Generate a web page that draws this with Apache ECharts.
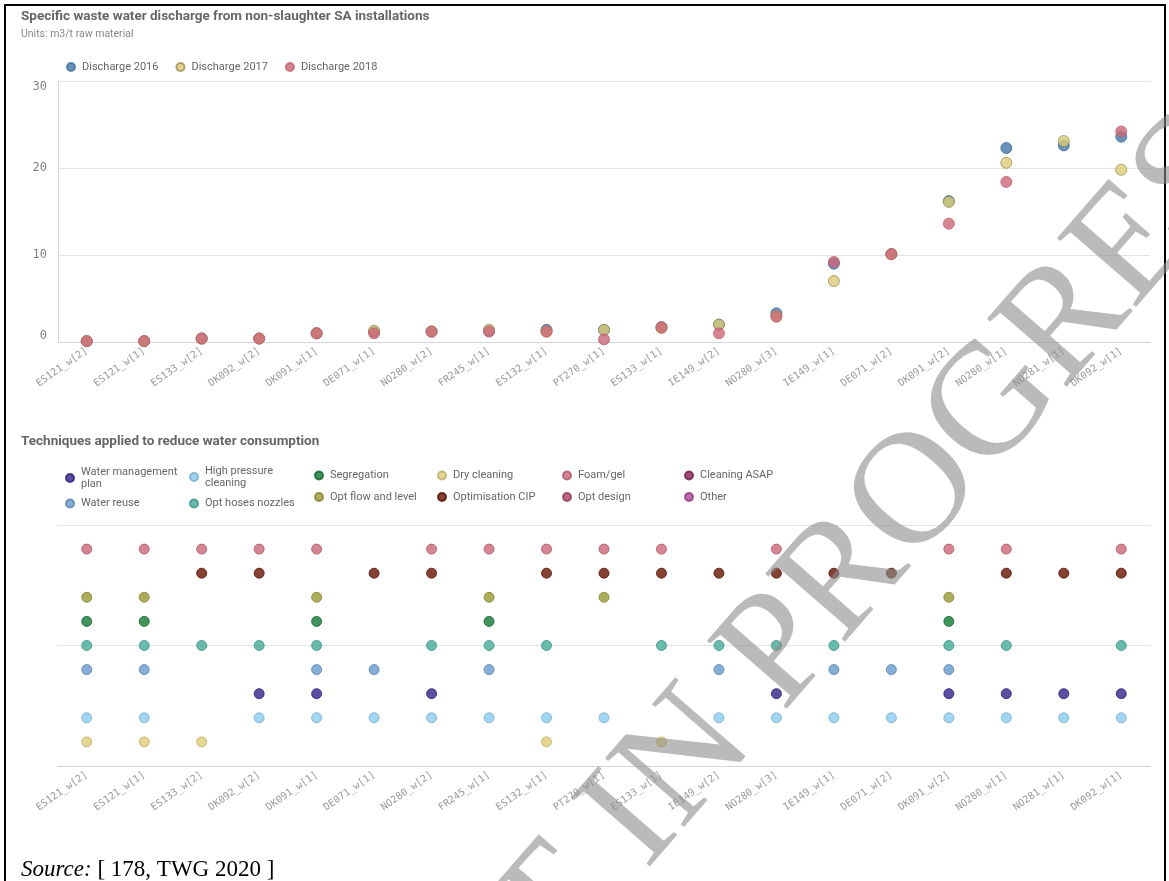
<!DOCTYPE html>
<html>
<head>
<meta charset="utf-8">
<title>Specific waste water discharge from non-slaughter SA installations</title>
<script src="https://cdn.jsdelivr.net/npm/echarts@6/dist/echarts.min.js"></script>
<style>
  html, body { margin: 0; padding: 0; background: #fff; }
  #chart { width: 1169px; height: 881px; }
</style>
</head>
<body>
<div id="chart"></div>
<script>
// installations, same order in both charts
const installations = [
  'ES121_w[2]', 'ES121_w[1]', 'ES133_w[2]', 'DK092_w[2]', 'DK091_w[1]', 'DE071_w[1]',
  'NO280_w[2]', 'FR245_w[1]', 'ES132_w[1]', 'PT270_w[1]', 'ES133_w[1]', 'IE149_w[2]',
  'NO280_w[3]', 'IE149_w[1]', 'DE071_w[2]', 'DK091_w[2]', 'NO280_w[1]', 'NO281_w[1]', 'DK092_w[1]'
];

// discharge, m3/t raw material (null = no value)
const discharge2016 = [0.1, 0.1, 0.4, 0.4, 1.0, 1.2, 1.2, 1.3, 1.4, 1.4, 1.7, 2.0, 3.3, 9.0, 10.1, 16.2, 22.3, 22.6, 23.6];
const discharge2017 = [0.1, 0.1, 0.4, 0.4, 1.0, 1.3, 1.2, 1.4, 1.2, 1.4, 1.6, 2.0, 3.0, 7.0, 10.1, 16.1, 20.6, 23.1, 19.8];
const discharge2018 = [0.1, 0.1, 0.4, 0.4, 1.0, 1.0, 1.2, 1.2, 1.2, 0.3, 1.7, 1.0, 2.9, 9.2, 10.1, 13.6, 18.4, null, 24.2];
const dischargeTicks = [0, 10, 20, 30];

// techniques, listed from the bottom row up
const techniqueRows = [
  'Dry cleaning', 'High pressure cleaning', 'Water management plan', 'Water reuse',
  'Opt hoses nozzles', 'Segregation', 'Opt flow and level', 'Optimisation CIP', 'Foam/gel'
];
// 1 = technique applied at that installation
const dryCleaning      = [1,1,1,0,0,0,0,0,1,0,1,0,0,0,0,0,0,0,0];
const highPressure     = [1,1,0,1,1,1,1,1,1,1,0,1,1,1,1,1,1,1,1];
const waterManagement  = [0,0,0,1,1,0,1,0,0,0,0,0,1,0,0,1,1,1,1];
const waterReuse       = [1,1,0,0,1,1,0,1,0,0,0,1,0,1,1,1,0,0,0];
const optHoses         = [1,1,1,1,1,0,1,1,1,0,1,1,1,1,0,1,1,0,1];
const segregation      = [1,1,0,0,1,0,0,1,0,0,0,0,0,0,0,1,0,0,0];
const optFlow          = [1,1,0,0,1,0,0,1,0,1,0,0,0,0,0,1,0,0,0];
const optimisationCIP  = [0,0,1,1,0,1,1,0,1,1,1,1,1,1,1,0,1,1,1];
const foamGel          = [1,1,1,1,1,0,1,1,1,1,1,0,1,0,0,1,1,0,1];
const cleaningASAP     = [0,0,0,0,0,0,0,0,0,0,0,0,0,0,0,0,0,0,0];
const optDesign        = [0,0,0,0,0,0,0,0,0,0,0,0,0,0,0,0,0,0,0];
const other            = [0,0,0,0,0,0,0,0,0,0,0,0,0,0,0,0,0,0,0];

const applied = {
  'Water management plan': waterManagement,
  'High pressure cleaning': highPressure,
  'Segregation': segregation,
  'Dry cleaning': dryCleaning,
  'Foam/gel': foamGel,
  'Cleaning ASAP': cleaningASAP,
  'Water reuse': waterReuse,
  'Opt hoses nozzles': optHoses,
  'Opt flow and level': optFlow,
  'Optimisation CIP': optimisationCIP,
  'Opt design': optDesign,
  'Other': other
};

const colors = {
  'Discharge 2016': '#4477aa',
  'Discharge 2017': '#ddcc77',
  'Discharge 2018': '#cc6677',
  'Water management plan': '#332288',
  'High pressure cleaning': '#88ccee',
  'Segregation': '#117733',
  'Dry cleaning': '#ddcc77',
  'Foam/gel': '#cc6677',
  'Cleaning ASAP': '#882255',
  'Water reuse': '#6699cc',
  'Opt hoses nozzles': '#44aa99',
  'Opt flow and level': '#999933',
  'Optimisation CIP': '#661100',
  'Opt design': '#aa4466',
  'Other': '#aa4499'
};

function darken(hex, f) {
  const n = parseInt(hex.slice(1), 16);
  const r = Math.round(((n >> 16) & 255) * f);
  const g = Math.round(((n >> 8) & 255) * f);
  const b = Math.round((n & 255) * f);
  return 'rgb(' + r + ',' + g + ',' + b + ')';
}

const sans = 'Roboto, "Noto Sans", sans-serif';
const mono = '"DejaVu Sans Mono", monospace';
const gridColor = '#e3e3e3';

const chart = echarts.init(document.getElementById('chart'));

const dischargeSeries = [
  ['Discharge 2016', discharge2016],
  ['Discharge 2017', discharge2017],
  ['Discharge 2018', discharge2018]
].map(([name, values]) => ({
  name: name,
  type: 'scatter',
  xAxisIndex: 0,
  yAxisIndex: 0,
  symbolSize: 11,
  itemStyle: {
    color: colors[name],
    borderColor: name === 'Discharge 2017' ? darken(colors[name], 0.7) : darken(colors[name], 0.95),
    borderWidth: 1
  },
  data: installations.map((c, i) => [c, values[i]]).filter(d => d[1] != null)
}));

const techniqueSeries = Object.keys(applied).map(name => ({
  name: name,
  type: 'scatter',
  xAxisIndex: 1,
  yAxisIndex: 1,
  symbolSize: 10,
  itemStyle: {
    color: colors[name],
    borderColor: darken(colors[name], 0.85),
    borderWidth: 1
  },
  data: installations
    .filter((c, i) => applied[name][i])
    .map(c => [c, techniqueRows.indexOf(name) + 1])
}));

// legend spots for the lower chart: [name, dot centre x, dot centre y, lines]
const techniqueLegend = [
  ['Water management plan', 69, 478, 2],
  ['High pressure cleaning', 193, 477, 2],
  ['Segregation', 318, 475.5, 1],
  ['Dry cleaning', 441, 475.5, 1],
  ['Foam/gel', 566, 475.5, 1],
  ['Cleaning ASAP', 688, 475.5, 1],
  ['Water reuse', 69, 503.5, 1],
  ['Opt hoses nozzles', 193, 503.5, 1],
  ['Opt flow and level', 318, 497, 1],
  ['Optimisation CIP', 441, 497, 1],
  ['Opt design', 566, 497, 1],
  ['Other', 688, 497, 1]
];

const legendText = { color: '#666', fontSize: 11, fontFamily: sans, lineHeight: 12, padding: [0, 0, 0, 2] };

const legends = [{
  data: ['Discharge 2016', 'Discharge 2017', 'Discharge 2018'],
  left: 66,
  top: 61,
  padding: 0,
  icon: 'circle',
  itemWidth: 8,
  itemHeight: 8,
  itemGap: 17,
  selectedMode: false,
  textStyle: legendText
}].concat(techniqueLegend.map(([name, x, y, lines]) => ({
  data: [name],
  left: x - 4,
  top: y - lines * 6,
  padding: 0,
  icon: 'circle',
  itemWidth: 8,
  itemHeight: 8,
  selectedMode: false,
  formatter: n => n === 'Water management plan' ? 'Water management\nplan'
    : n === 'High pressure cleaning' ? 'High pressure\ncleaning' : n,
  textStyle: legendText
})));

const xLabel = {
  interval: 0,
  rotate: 35,
  margin: 8,
  color: '#999',
  fontSize: 10,
  fontFamily: mono
};

chart.setOption({
  animation: false,
  legend: legends,
  grid: [
    { left: 58, right: 19, top: 81, height: 261 },
    { left: 58, right: 19, top: 525, height: 241 }
  ],
  xAxis: [
    {
      gridIndex: 0,
      type: 'category',
      data: installations,
      axisLine: { lineStyle: { color: '#d6d6d6' } },
      axisTick: { show: false },
      axisLabel: xLabel
    },
    {
      gridIndex: 1,
      type: 'category',
      data: installations,
      axisLine: { lineStyle: { color: '#d6d6d6' } },
      axisTick: { show: false },
      axisLabel: xLabel
    }
  ],
  yAxis: [
    {
      gridIndex: 0,
      type: 'value',
      min: dischargeTicks[0],
      max: dischargeTicks[dischargeTicks.length - 1],
      interval: 10,
      axisLine: { show: true, lineStyle: { color: '#d6d6d6' } },
      axisTick: { show: false },
      splitLine: { lineStyle: { color: gridColor } },
      axisLabel: {
        color: '#808080',
        fontSize: 12,
        fontFamily: mono,
        margin: 11,
        verticalAlignMinLabel: 'bottom',
        verticalAlignMaxLabel: 'top'
      }
    },
    {
      gridIndex: 1,
      type: 'value',
      min: 0,
      max: techniqueRows.length + 1,
      interval: (techniqueRows.length + 1) / 2,
      axisLine: { show: false },
      axisTick: { show: false },
      axisLabel: { show: false },
      splitLine: { lineStyle: { color: gridColor } }
    }
  ],
  series: dischargeSeries.concat(techniqueSeries),
  graphic: [
    {
      type: 'polyline',
      shape: { points: [[5, 881], [5, 5], [1165, 5], [1165, 881]] },
      style: { stroke: '#000', lineWidth: 2, fill: null },
      silent: true
    },
    {
      type: 'text', x: 21, y: 17,
      style: {
        text: 'Specific waste water discharge from non-slaughter SA installations',
        font: 'bold 13.5px ' + sans, fill: '#666', verticalAlign: 'middle'
      }
    },
    {
      type: 'text', x: 21, y: 34,
      style: {
        text: 'Units: m3/t raw material',
        font: '10.5px ' + sans, fill: '#888', verticalAlign: 'middle'
      }
    },
    {
      type: 'text', x: 21, y: 442,
      style: {
        text: 'Techniques applied to reduce water consumption',
        font: 'bold 13.5px ' + sans, fill: '#666', verticalAlign: 'middle'
      }
    },
    {
      type: 'text', x: 21, y: 870,
      style: {
        text: '{i|Source:} [ 178, TWG 2020 ]',
        font: '23px "Liberation Serif", serif', fill: '#000', verticalAlign: 'middle',
        rich: { i: { font: 'italic 23px "Liberation Serif", serif', fill: '#000' } }
      }
    },
    {
      type: 'text', x: 763, y: 672, z: 100,
      rotation: 49 * Math.PI / 180,
      silent: true,
      style: {
        text: 'DRAFT IN PROGRESS',
        font: '160px "Liberation Serif", serif',
        fill: 'rgba(140,140,140,0.6)',
        align: 'center',
        verticalAlign: 'middle'
      }
    }
  ]
});
</script>
</body>
</html>
